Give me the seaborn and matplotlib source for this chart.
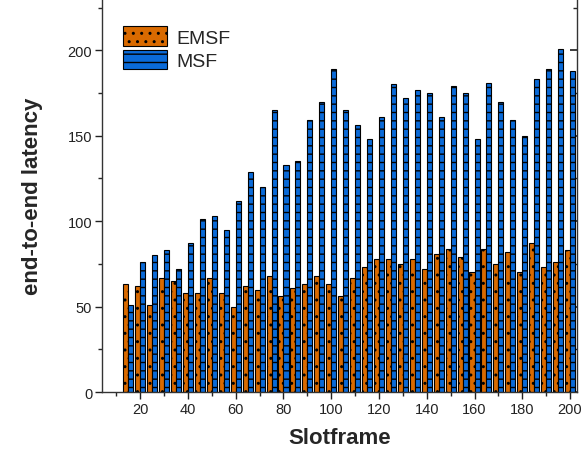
import matplotlib
matplotlib.use('Agg')
import matplotlib.pyplot as plt
from matplotlib.ticker import MultipleLocator
import seaborn as sns
import pandas as pd

# data
slotframes = [15, 20, 25, 30, 35, 40, 45, 50, 55, 60, 65, 70, 75, 80, 85, 90, 95,
              100, 105, 110, 115, 120, 125, 130, 135, 140, 145, 150, 155, 160,
              165, 170, 175, 180, 185, 190, 195, 200]
emsf = [63, 62, 51, 67, 65, 58, 58, 67, 58, 50, 62, 60, 68, 56, 61, 63, 68,
        63, 56, 67, 73, 78, 78, 75, 78, 72, 81, 84, 79, 70,
        84, 75, 82, 70, 87, 73, 76, 83]
msf = [51, 76, 80, 83, 72, 87, 101, 103, 95, 112, 129, 120, 165, 133, 135, 159, 170,
       189, 165, 156, 148, 161, 180, 172, 177, 175, 161, 179, 175, 148,
       181, 170, 159, 150, 183, 189, 201, 188]
series_names = ['EMSF', 'MSF']
colors = ['#d96a00', '#0a6ad8']
hatches = ['..', '--']


def main():
    sns.set_theme(style='ticks')
    plt.rcParams['font.family'] = ['Liberation Sans', 'DejaVu Sans']
    plt.rcParams['hatch.linewidth'] = 1.0
    plt.rcParams['hatch.color'] = 'black'

    data = pd.DataFrame({
        'slot': slotframes * 2,
        'latency': emsf + msf,
        'scheme': [series_names[0]] * len(emsf) + [series_names[1]] * len(msf),
    })

    fig = plt.figure(figsize=(5.83, 4.56), dpi=100)
    ax = fig.add_axes([0.175, 0.138, 0.815, 0.862])

    sns.barplot(data=data, x='slot', y='latency', hue='scheme',
                hue_order=series_names, palette=colors, saturation=1,
                native_scale=True, width=0.84, edgecolor='black',
                linewidth=0.8, legend=False, ax=ax)

    for container, hatch in zip(ax.containers, hatches):
        for bar in container:
            bar.set_hatch(hatch)

    ax.set_xlim(4, 203)
    ax.set_ylim(0, 230)
    ax.xaxis.set_major_locator(MultipleLocator(20))
    ax.xaxis.set_minor_locator(MultipleLocator(10))
    ax.yaxis.set_major_locator(MultipleLocator(50))
    ax.yaxis.set_minor_locator(MultipleLocator(25))
    ax.tick_params(axis='both', which='major', length=5, width=1,
                   labelsize=10.5, pad=2, colors='#222222')
    ax.tick_params(axis='both', which='minor', length=3, width=1)

    # right axis: ticks only, pointing inward
    sec = ax.secondary_yaxis('right')
    sec.yaxis.set_major_locator(MultipleLocator(50))
    sec.yaxis.set_minor_locator(MultipleLocator(25))
    sec.tick_params(which='major', direction='in', length=5, labelright=False)
    sec.tick_params(which='minor', direction='in', length=3)
    sec.spines['right'].set_linewidth(1)
    sec.spines['right'].set_color('#333333')

    ax.spines['top'].set_visible(False)
    ax.spines['right'].set_visible(False)
    for s in ['left', 'bottom']:
        ax.spines[s].set_linewidth(1)
        ax.spines[s].set_color('#333333')

    ax.set_xlabel('Slotframe', fontsize=16, fontweight='bold', labelpad=8)
    ax.set_ylabel('end-to-end latency', fontsize=16, fontweight='bold',
                  labelpad=18)

    ax.legend(handles=list(ax.containers), labels=series_names,
              loc='upper left', bbox_to_anchor=(0.027, 0.95), frameon=False,
              fontsize=14, handlelength=2.3, handleheight=1.15,
              labelspacing=0.15, handletextpad=0.45, borderaxespad=0)

    plt.savefig('out.png', dpi=100)


if __name__ == '__main__':
    main()
